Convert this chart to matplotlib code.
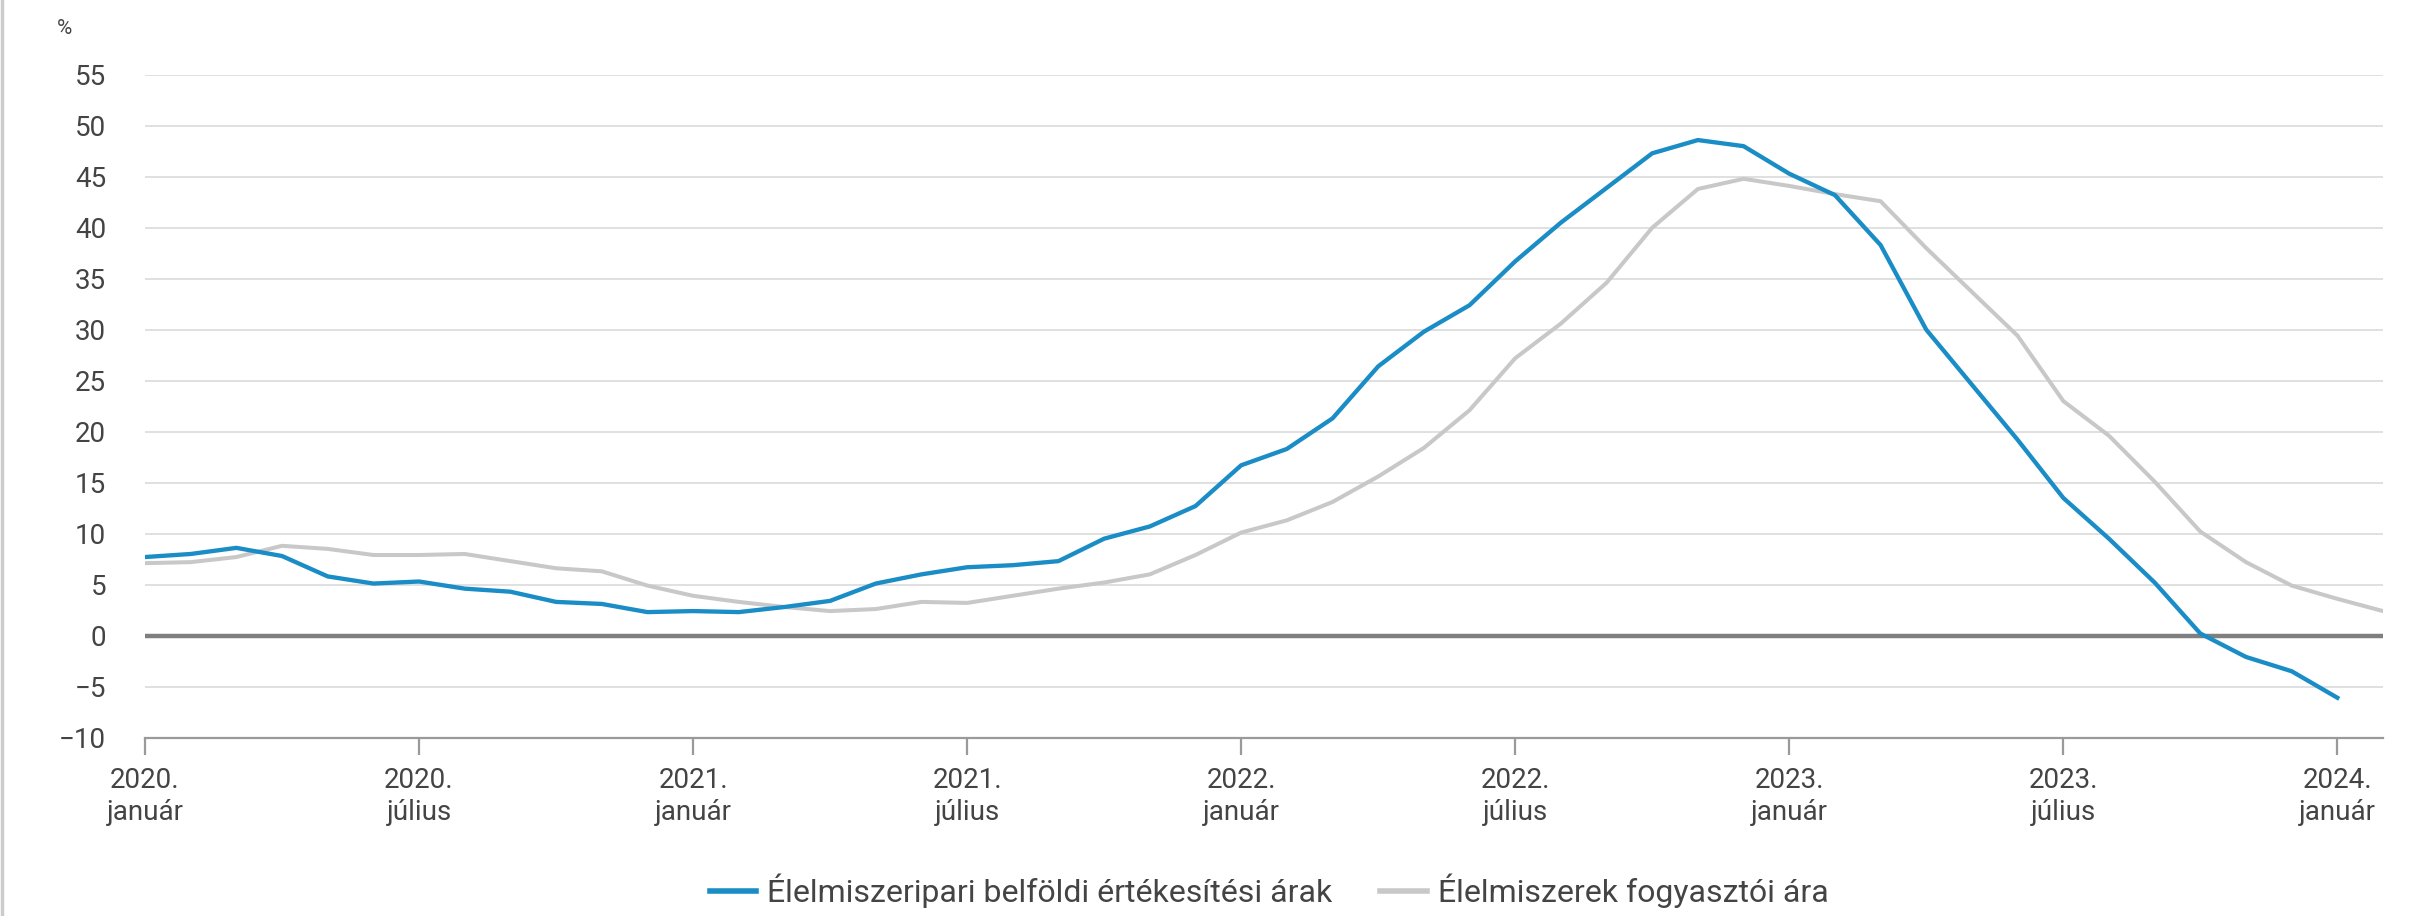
import matplotlib
matplotlib.use("Agg")
import matplotlib.pyplot as plt
from matplotlib.lines import Line2D

plt.rcParams['font.family'] = ['Roboto', 'DejaVu Sans']

# Monthly data, 2020 January .. 2024 January/February
industry_prices = [7.7, 8.0, 8.6, 7.8, 5.8, 5.1, 5.3, 4.6, 4.3, 3.3, 3.1, 2.3, 2.4,
                   2.3, 2.8, 3.4, 5.1, 6.0, 6.7, 6.9, 7.3, 9.5, 10.7, 12.7, 16.7,
                   18.3, 21.3, 26.4, 29.8, 32.4, 36.7, 40.5, 43.9, 47.3, 48.6, 48.0, 45.3,
                   43.2, 38.3, 30.0, 24.6, 19.2, 13.5, 9.5, 5.2, 0.2, -2.1, -3.5, -6.1]
consumer_prices = [7.1, 7.2, 7.7, 8.8, 8.5, 7.9, 7.9, 8.0, 7.3, 6.6, 6.3, 4.9, 3.9,
                   3.3, 2.8, 2.4, 2.6, 3.3, 3.2, 3.9, 4.6, 5.2, 6.0, 7.9, 10.1,
                   11.3, 13.1, 15.6, 18.4, 22.1, 27.2, 30.6, 34.6, 40.0, 43.8, 44.8, 44.1,
                   43.3, 42.6, 38.0, 33.7, 29.4, 23.0, 19.6, 15.1, 10.2, 7.2, 4.9, 3.6, 2.4]
series_names = ["Élelmiszeripari belföldi értékesítési árak", "Élelmiszerek fogyasztói ára"]
tick_labels = ["2020.\njanuár", "2020.\njúlius", "2021.\njanuár", "2021.\njúlius",
               "2022.\njanuár", "2022.\njúlius", "2023.\njanuár", "2023.\njúlius",
               "2024.\njanuár"]
y_ticks = list(range(-10, 60, 5))

BLUE = "#1a8cc6"
GRAY = "#c8c8c8"
TXT = "#444444"

fig = plt.figure(figsize=(24.11, 9.16), dpi=100)
ax = fig.add_axes([145 / 2411, 1 - 737.5 / 916, (2383 - 145) / 2411, (737.5 - 74.8) / 916])

ax.set_xlim(0, 49)
ax.set_ylim(-10, 55)

for v in y_ticks:
    if v == 0 or v == -10:
        continue
    ax.axhline(v, color="#dddddd", lw=1.3, zorder=1)
ax.axhline(0, color="#7f7f7f", lw=3.2, zorder=2)

ax.plot(range(len(consumer_prices)), consumer_prices, color=GRAY, lw=2.9, zorder=3,
        label=series_names[1], solid_joinstyle="round")
ax.plot(range(len(industry_prices)), industry_prices, color=BLUE, lw=3.1, zorder=4,
        label=series_names[0], solid_joinstyle="round")

for s in ["top", "right", "left"]:
    ax.spines[s].set_visible(False)
ax.spines["bottom"].set_color("#9a9a9a")
ax.spines["bottom"].set_linewidth(1.6)

ax.set_yticks(y_ticks)
ax.set_yticklabels([str(v).replace("-", "\u2212") for v in y_ticks])
ax.tick_params(axis="y", length=0, pad=28, labelsize=20, labelcolor=TXT)
ax.set_xticks(list(range(0, 49, 6)))
ax.set_xticklabels(tick_labels, linespacing=1.25)
ax.tick_params(axis="x", length=12, width=1.6, color="#9a9a9a", pad=9,
               labelsize=20, labelcolor=TXT)

fig.text(65 / 2411, 1 - 29 / 916, "%", fontsize=15, color=TXT, ha="center", va="center")

# left frame line
fig.add_artist(Line2D([2 / 2411, 2 / 2411], [0, 1], transform=fig.transFigure,
                      color="#cccccc", lw=2.5))

handles = [Line2D([], [], color=BLUE, lw=4), Line2D([], [], color=GRAY, lw=4)]
fig.legend(handles, series_names, loc="center", bbox_to_anchor=(1269 / 2411, 1 - 891 / 916),
           ncol=2, frameon=False, fontsize=23, handlelength=1.45, handletextpad=0.35,
           columnspacing=1.5, labelcolor=TXT)

fig.savefig("out.png", dpi=100, facecolor="white")
